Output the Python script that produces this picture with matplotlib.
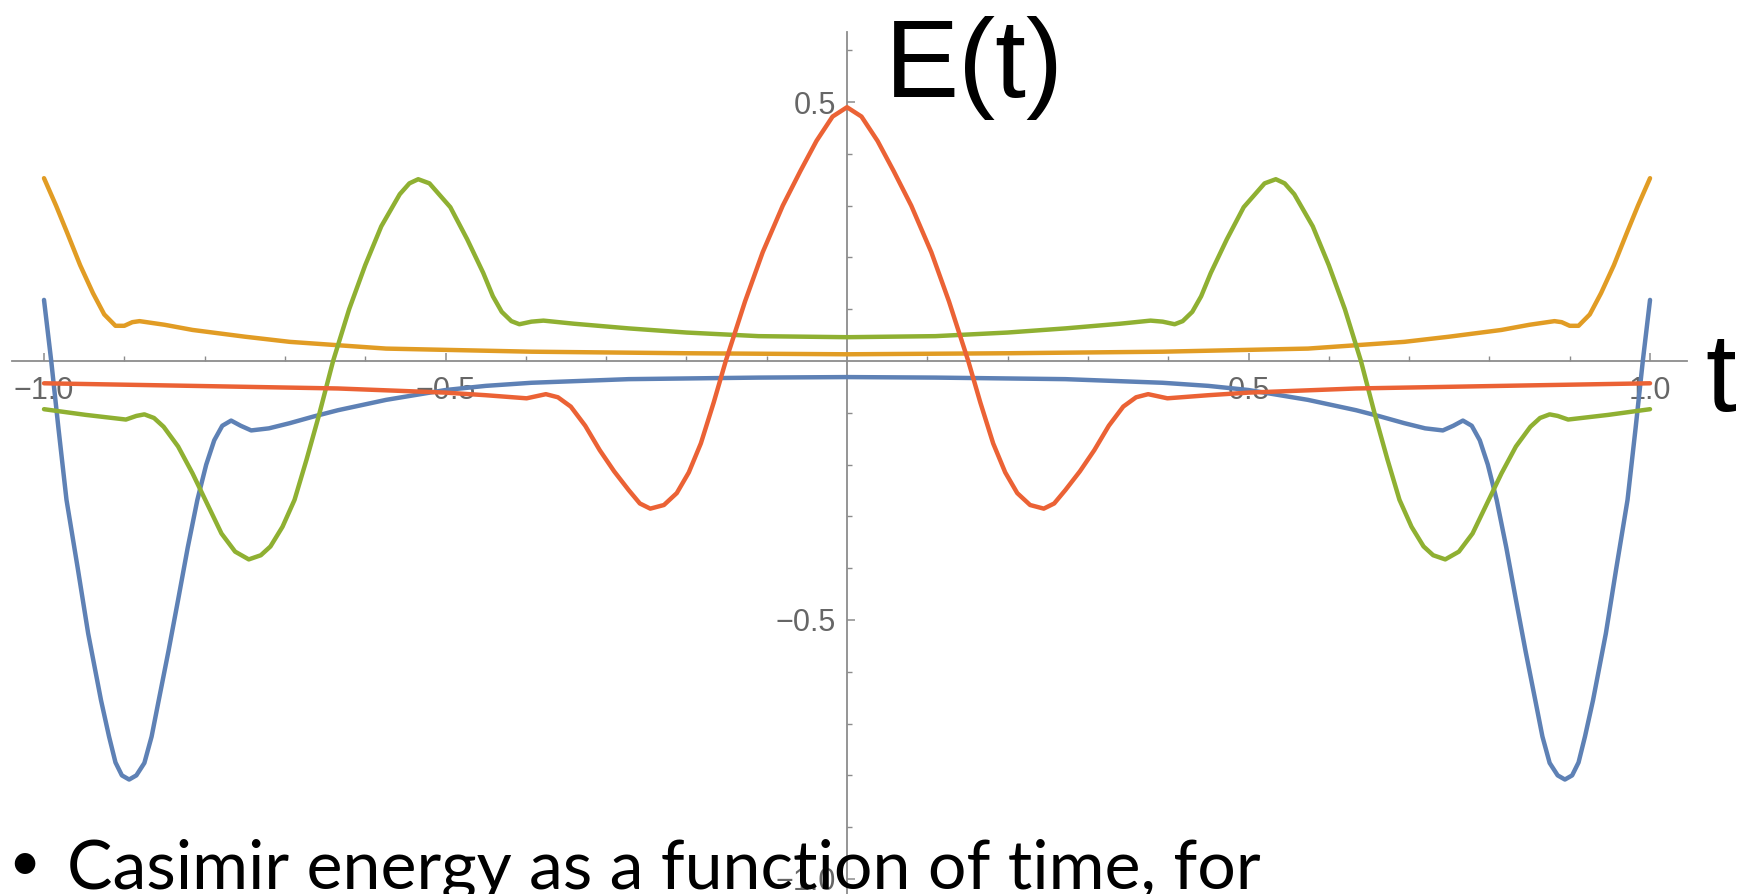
import matplotlib
matplotlib.use('Agg')
import matplotlib.pyplot as plt
from matplotlib.ticker import FixedLocator

# E(t), t from -1 to 1
t_blue = [-1.0, -0.991, -0.982, -0.972, -0.958, -0.945, -0.929, -0.919, -0.911, -0.903, -0.894,
          -0.885, -0.875, -0.866, -0.857, -0.845, -0.833, -0.821, -0.809, -0.798, -0.788, -0.778,
          -0.767, -0.755, -0.742, -0.72, -0.694, -0.664, -0.634, -0.574, -0.5, -0.45, -0.393,
          -0.272, -0.11, 0.0,
          0.11, 0.272, 0.393, 0.45, 0.5, 0.574, 0.634, 0.664, 0.694, 0.72, 0.742, 0.755, 0.767,
          0.778, 0.788, 0.798, 0.809, 0.821, 0.833, 0.845, 0.857, 0.866, 0.875, 0.885, 0.894,
          0.903, 0.911, 0.919, 0.929, 0.945, 0.958, 0.972, 0.982, 0.991, 1.0]
e_blue = [0.118, 0.0, -0.13, -0.268, -0.4, -0.526, -0.655, -0.725, -0.775, -0.8, -0.808,
          -0.8, -0.776, -0.725, -0.654, -0.56, -0.461, -0.36, -0.268, -0.2, -0.153, -0.125,
          -0.115, -0.125, -0.134, -0.13, -0.12, -0.107, -0.095, -0.075, -0.056, -0.048, -0.042,
          -0.035, -0.032, -0.031,
          -0.032, -0.035, -0.042, -0.048, -0.056, -0.075, -0.095, -0.107, -0.12, -0.13, -0.134,
          -0.125, -0.115, -0.125, -0.153, -0.2, -0.268, -0.36, -0.461, -0.56, -0.654, -0.725,
          -0.776, -0.8, -0.808, -0.8, -0.775, -0.725, -0.655, -0.526, -0.4, -0.268, -0.13, 0.0, 0.118]

t_orange = [-1.0, -0.985, -0.971, -0.955, -0.939, -0.925, -0.911, -0.9, -0.89, -0.881, -0.85,
            -0.815, -0.75, -0.694, -0.574, -0.393, -0.2, 0.0,
            0.2, 0.393, 0.574, 0.694, 0.75, 0.815, 0.85, 0.881, 0.89, 0.9, 0.911, 0.925, 0.939,
            0.955, 0.971, 0.985, 1.0]
e_orange = [0.353, 0.3, 0.247, 0.185, 0.131, 0.09, 0.068, 0.068, 0.075, 0.077, 0.07,
            0.06, 0.047, 0.037, 0.024, 0.018, 0.015, 0.013,
            0.015, 0.018, 0.024, 0.037, 0.047, 0.06, 0.07, 0.077, 0.075, 0.068, 0.068, 0.09, 0.131,
            0.185, 0.247, 0.3, 0.353]

t_green = [-1.0, -0.948, -0.898, -0.885, -0.875, -0.863, -0.851, -0.833, -0.815, -0.797, -0.779,
           -0.762, -0.745, -0.73, -0.718, -0.703, -0.688, -0.673, -0.658, -0.64, -0.62, -0.6,
           -0.58, -0.557, -0.545, -0.534, -0.52, -0.494, -0.473, -0.453, -0.441, -0.43, -0.418,
           -0.408, -0.393, -0.378, -0.34, -0.272, -0.2, -0.11, 0.0,
           0.11, 0.2, 0.272, 0.34, 0.378, 0.393, 0.408, 0.418, 0.43, 0.441, 0.453, 0.473, 0.494,
           0.52, 0.534, 0.545, 0.557, 0.58, 0.6, 0.62, 0.64, 0.658, 0.673, 0.688, 0.703, 0.718,
           0.73, 0.745, 0.762, 0.779, 0.797, 0.815, 0.833, 0.851, 0.863, 0.875, 0.885, 0.898,
           0.948, 1.0]
e_green = [-0.093, -0.104, -0.113, -0.106, -0.103, -0.11, -0.127, -0.165, -0.217, -0.275, -0.333,
           -0.368, -0.383, -0.375, -0.358, -0.32, -0.268, -0.19, -0.107, 0.0, 0.1, 0.185,
           0.26, 0.322, 0.343, 0.351, 0.343, 0.297, 0.235, 0.17, 0.125, 0.095, 0.077,
           0.071, 0.076, 0.078, 0.072, 0.063, 0.055, 0.048, 0.046,
           0.048, 0.055, 0.063, 0.072, 0.078, 0.076, 0.071, 0.077, 0.095, 0.125, 0.17, 0.235, 0.297,
           0.343, 0.351, 0.343, 0.322, 0.26, 0.185, 0.1, 0.0, -0.107, -0.19, -0.268, -0.32, -0.358,
           -0.375, -0.383, -0.368, -0.333, -0.275, -0.217, -0.165, -0.127, -0.11, -0.103, -0.106, -0.113,
           -0.104, -0.093]

t_red = [-1.0, -0.815, -0.634, -0.5, -0.45, -0.399, -0.387, -0.375, -0.36, -0.344, -0.326,
         -0.308, -0.29, -0.272, -0.258, -0.245, -0.228, -0.212, -0.197, -0.182, -0.166, -0.151,
         -0.127, -0.105, -0.08, -0.058, -0.038, -0.018, 0.0,
         0.018, 0.038, 0.058, 0.08, 0.105, 0.127, 0.151, 0.166, 0.182, 0.197, 0.212, 0.228, 0.245,
         0.258, 0.272, 0.29, 0.308, 0.326, 0.344, 0.36, 0.375, 0.387, 0.399, 0.45, 0.5, 0.634,
         0.815, 1.0]
e_red = [-0.043, -0.048, -0.053, -0.061, -0.066, -0.072, -0.068, -0.064, -0.07, -0.088, -0.125,
         -0.172, -0.213, -0.249, -0.275, -0.285, -0.278, -0.255, -0.215, -0.159, -0.08, 0.0,
         0.115, 0.21, 0.3, 0.367, 0.425, 0.472, 0.49,
         0.472, 0.425, 0.367, 0.3, 0.21, 0.115, 0.0, -0.08, -0.159, -0.215, -0.255, -0.278, -0.285,
         -0.275, -0.249, -0.213, -0.172, -0.125, -0.088, -0.07, -0.064, -0.068, -0.072, -0.066, -0.061, -0.053,
         -0.048, -0.043]

x_major = [-1.0, -0.5, 0.5, 1.0]
x_labels = ['\u22121.0', '\u22120.5', '0.5', '1.0']
x_minor = [-0.9, -0.8, -0.7, -0.6, -0.4, -0.3, -0.2, -0.1, 0.1, 0.2, 0.3, 0.4, 0.6, 0.7, 0.8, 0.9]
y_major = [-1.0, -0.5, 0.5]
y_labels = ['\u22121.0', '\u22120.5', '0.5']
y_minor = [-0.9, -0.8, -0.7, -0.6, -0.4, -0.3, -0.2, -0.1, 0.1, 0.2, 0.3, 0.4, 0.6]

fig = plt.figure(figsize=(17.5, 8.94), dpi=100)
ax = fig.add_axes([0, 0, 1, 1])
ax.set_xlim(-1.0548, 1.1245)
ax.set_ylim(-1.029, 0.697)

lw = 3.2
for t, e, c in [(t_blue, e_blue, '#5E81B5'), (t_orange, e_orange, '#E19C24'),
                (t_green, e_green, '#8FB032'), (t_red, e_red, '#EB6235')]:
    ax.plot(t, e, color=c, lw=lw, zorder=3, solid_joinstyle='round', solid_capstyle='round')

axis_color = '#8c8c8c'
for side in ['top', 'right']:
    ax.spines[side].set_visible(False)
ax.spines['left'].set_position(('data', 0))
ax.spines['bottom'].set_position(('data', 0))
ax.spines['left'].set_bounds(-1.05, 0.635)
ax.spines['bottom'].set_bounds(-1.04, 1.046)
for side in ['left', 'bottom']:
    ax.spines[side].set_color(axis_color)
    ax.spines[side].set_linewidth(1.3)

ax.xaxis.set_major_locator(FixedLocator(x_major))
ax.xaxis.set_minor_locator(FixedLocator(x_minor))
ax.yaxis.set_major_locator(FixedLocator(y_major))
ax.yaxis.set_minor_locator(FixedLocator(y_minor))
ax.set_xticklabels(x_labels)
ax.set_yticklabels(y_labels)

ax.tick_params(which='major', direction='in', length=6, width=1.1, color=axis_color,
               labelsize=22, labelcolor='#666666')
ax.tick_params(which='minor', direction='in', length=3.5, width=1.0, color=axis_color)
ax.tick_params(axis='x', which='major', pad=11)
ax.tick_params(axis='y', which='major', pad=8)
for lab in ax.get_xticklabels() + ax.get_yticklabels():
    lab.set_family('Liberation Sans')

# slide text laid over the plot
fig.text(0.5057, 0.8915, 'E(t)', fontsize=80, family='Liberation Sans', ha='left', va='baseline')
fig.text(0.9743, 0.5403, 't', fontsize=80, family='Liberation Sans', ha='left', va='baseline')
fig.text(0.005, 0.016, '\u2022', fontsize=40, family='Lato', ha='left', va='baseline', zorder=10)
fig.text(0.0383, 0.0056, 'Casimir energy as a function of time, for', fontsize=49, family='Lato',
         ha='left', va='baseline', zorder=10)

fig.savefig('out.png', dpi=100)
